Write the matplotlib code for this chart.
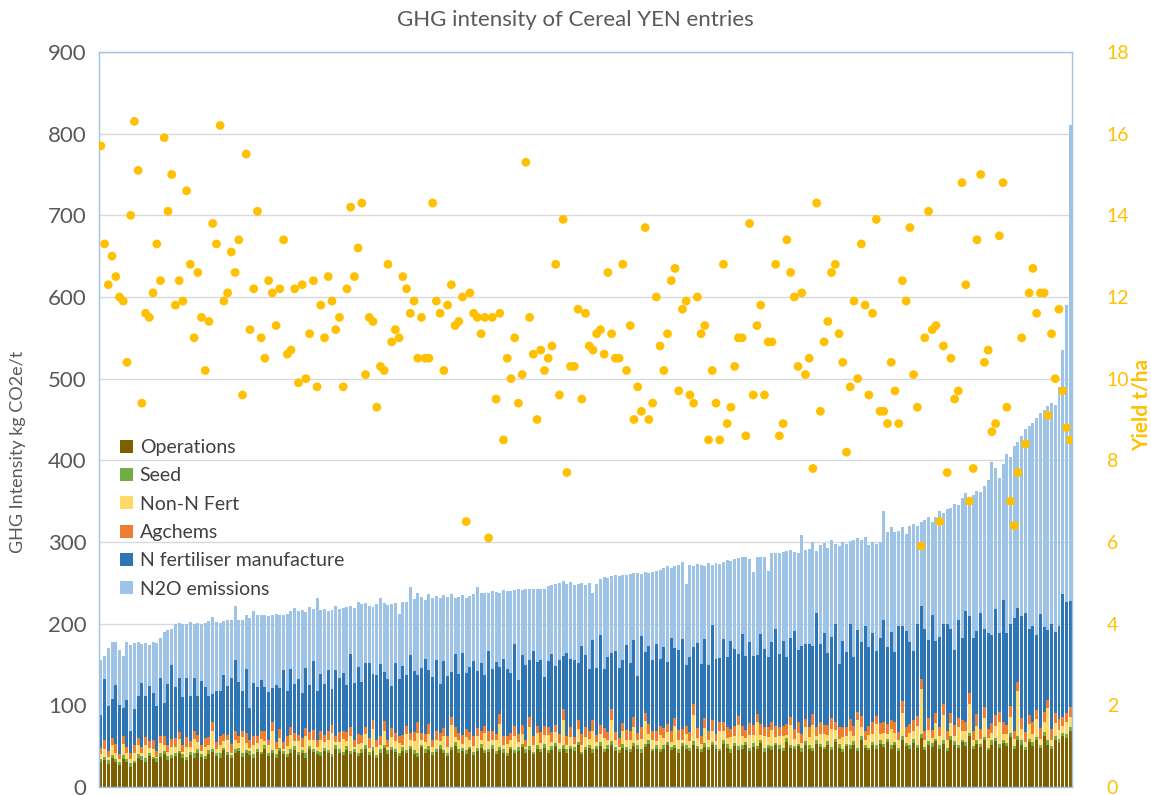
import matplotlib.pyplot as plt
import numpy as np

plt.rcParams['font.family'] = ['Lato', 'DejaVu Sans']

# total GHG intensity per entry (kg CO2e/t), sorted as in the chart
totals = [155, 160, 170, 178, 178, 168, 160, 178, 174, 176,
          178, 175, 176, 174, 177, 176, 182, 190, 192, 194,
          200, 201, 200, 200, 202, 200, 201, 200, 201, 203,
          208, 202, 201, 203, 205, 204, 221, 205, 204, 210,
          207, 216, 210, 211, 210, 209, 210, 212, 211, 210,
          212, 216, 219, 216, 217, 214, 220, 218, 231, 217,
          218, 216, 217, 221, 218, 219, 220, 222, 219, 226,
          224, 225, 221, 220, 224, 232, 225, 223, 224, 225,
          212, 226, 227, 245, 230, 237, 233, 229, 236, 231,
          234, 232, 235, 233, 236, 232, 233, 235, 231, 234,
          236, 245, 237, 238, 238, 240, 239, 237, 241, 240,
          240, 241, 242, 241, 243, 242, 242, 243, 242, 243,
          246, 247, 249, 250, 252, 248, 251, 247, 249, 250,
          247, 250, 238, 248, 255, 257, 256, 258, 259, 258,
          260, 259, 261, 262, 262, 261, 263, 262, 263, 265,
          266, 268, 270, 268, 271, 272, 276, 248, 272, 270,
          273, 272, 271, 274, 272, 274, 273, 276, 278, 277,
          279, 280, 282, 281, 279, 263, 281, 282, 281, 265,
          286, 287, 286, 288, 289, 290, 288, 287, 308, 290,
          291, 300, 289, 296, 299, 293, 302, 297, 295, 300,
          298, 301, 303, 305, 303, 306, 296, 300, 297, 300,
          338, 312, 318, 312, 314, 318, 310, 320, 322, 320,
          325, 327, 330, 325, 331, 338, 336, 340, 342, 346,
          345, 354, 360, 352, 358, 362, 361, 368, 376, 398,
          390, 378, 396, 408, 404, 417, 422, 430, 438, 442,
          446, 452, 458, 462, 466, 470, 468, 490, 535, 590,
          810]

operations = [30, 33, 28, 35, 31, 27, 34, 30, 25, 29,
              36, 33, 31, 38, 34, 30, 37, 40, 33, 35,
              38, 41, 35, 33, 39, 36, 42, 37, 34, 40,
              43, 38, 36, 45, 39, 35, 41, 44, 37, 42,
              39, 36, 43, 40, 46, 38, 41, 35, 44, 40,
              37, 42, 45, 39, 41, 36, 47, 43, 40, 38,
              44, 41, 37, 46, 42, 39, 45, 40, 43, 38,
              41, 47, 39, 44, 36, 42, 48, 40, 45, 43,
              38, 44, 41, 46, 40, 37, 49, 42, 45, 39,
              43, 47, 41, 38, 45, 50, 42, 44, 40, 46,
              39, 44, 48, 41, 43, 47, 40, 45, 42, 38,
              46, 41, 44, 49, 42, 45, 40, 47, 43, 48,
              41, 45, 50, 43, 47, 42, 46, 44, 51, 40,
              45, 48, 42, 46, 50, 43, 47, 52, 44, 41,
              48, 45, 43, 50, 46, 42, 49, 53, 44, 47,
              43, 46, 51, 45, 48, 42, 50, 46, 44, 52,
              47, 43, 49, 45, 51, 46, 44, 53, 48, 42,
              50, 45, 47, 52, 44, 49, 46, 54, 43, 48,
              45, 51, 47, 44, 55, 48, 46, 50, 43, 52,
              47, 44, 53, 49, 46, 51, 45, 55, 48, 43,
              50, 46, 52, 44, 57, 48, 45, 51, 47, 53,
              49, 55, 46, 52, 44, 58, 50, 47, 54, 48,
              60, 45, 52, 49, 56, 47, 53, 44, 58, 51,
              48, 55, 50, 62, 46, 53, 49, 57, 45, 52,
              56, 48, 54, 50, 61, 47, 58, 52, 45, 55,
              50, 57, 48, 63, 52, 46, 58, 54, 62, 60,
              68]

seed = [4, 4, 5, 4, 3, 4, 5, 4, 4, 3,
        4, 5, 4, 4, 3, 5, 4, 4, 5, 4,
        4, 3, 5, 4, 4, 5, 4, 3, 4, 5,
        4, 4, 5, 3, 4, 4, 5, 4, 4, 3,
        5, 4, 4, 3, 5, 4, 4, 5, 4, 4,
        3, 4, 5, 4, 4, 5, 3, 4, 4, 5,
        4, 4, 3, 5, 4, 4, 5, 4, 3, 4,
        5, 4, 4, 5, 3, 4, 4, 5, 4, 4,
        3, 5, 4, 4, 5, 4, 3, 4, 5, 4,
        4, 5, 4, 3, 4, 5, 4, 4, 5, 3,
        4, 4, 5, 4, 3, 5, 4, 4, 5, 4,
        3, 4, 5, 4, 4, 5, 3, 4, 4, 5,
        4, 5, 4, 3, 5, 4, 4, 5, 4, 3,
        4, 4, 5, 4, 5, 3, 4, 4, 5, 4,
        5, 4, 3, 4, 5, 4, 4, 5, 3, 4,
        4, 5, 4, 4, 3, 5, 4, 5, 4, 4,
        3, 4, 5, 4, 4, 5, 3, 4, 5, 4,
        4, 5, 4, 3, 4, 5, 4, 4, 5, 4,
        5, 3, 4, 4, 5, 4, 4, 3, 5, 4,
        4, 4, 5, 4, 3, 5, 4, 4, 5, 4,
        3, 5, 4, 4, 5, 4, 3, 4, 5, 4,
        4, 4, 5, 3, 4, 5, 4, 4, 5, 3,
        5, 4, 4, 5, 3, 4, 5, 4, 4, 5,
        4, 3, 5, 4, 4, 5, 4, 4, 3, 5,
        4, 5, 4, 4, 5, 3, 4, 5, 4, 4,
        5, 4, 3, 4, 5, 4, 4, 5, 4, 5,
        6]

non_n_fert = [6, 10, 4, 12, 8, 3, 14, 7, 5, 9,
              11, 4, 16, 6, 9, 2, 13, 8, 5, 10,
              7, 15, 3, 12, 6, 18, 9, 4, 11, 7,
              22, 5, 10, 8, 14, 3, 12, 6, 20, 9,
              4, 11, 7, 16, 5, 9, 24, 6, 12, 3,
              10, 18, 6, 13, 4, 21, 8, 11, 5, 15,
              7, 12, 26, 4, 9, 16, 6, 19, 3, 11,
              8, 14, 5, 22, 10, 6, 17, 4, 12, 9,
              13, 3, 20, 7, 11, 25, 5, 9, 15, 6,
              10, 4, 18, 8, 27, 6, 12, 5, 16, 9,
              7, 14, 4, 21, 10, 6, 13, 28, 5, 11,
              8, 17, 6, 12, 3, 24, 9, 15, 7, 11,
              19, 5, 13, 8, 30, 6, 11, 4, 16, 9,
              12, 7, 22, 5, 10, 14, 6, 26, 9, 4,
              15, 8, 11, 20, 6, 13, 28, 7, 10, 5,
              17, 9, 12, 6, 24, 11, 4, 14, 8, 32,
              10, 6, 18, 9, 13, 5, 21, 11, 7, 15,
              8, 26, 12, 5, 16, 10, 30, 6, 14, 9,
              20, 7, 11, 15, 4, 24, 9, 13, 6, 18,
              10, 28, 5, 12, 16, 8, 22, 11, 6, 14,
              9, 18, 7, 34, 12, 5, 16, 10, 25, 8,
              13, 6, 20, 11, 9, 28, 7, 15, 10, 24,
              55, 8, 14, 6, 19, 11, 30, 9, 16, 7,
              21, 10, 13, 36, 8, 17, 6, 24, 12, 9,
              15, 27, 7, 11, 20, 9, 55, 14, 6, 18,
              10, 22, 8, 13, 40, 7, 16, 11, 9, 14,
              12]

agchems = [8, 10, 7, 9, 11, 6, 9, 8, 7, 10,
           9, 7, 10, 8, 12, 7, 9, 11, 8, 10,
           11, 8, 9, 12, 7, 10, 9, 8, 11, 9,
           10, 8, 12, 9, 7, 11, 10, 9, 8, 12,
           9, 11, 8, 10, 12, 7, 10, 9, 11, 8,
           12, 9, 10, 8, 11, 10, 9, 12, 8, 10,
           9, 11, 10, 8, 12, 9, 11, 10, 8, 12,
           10, 9, 12, 11, 8, 10, 12, 9, 11, 10,
           8, 12, 10, 9, 11, 13, 9, 10, 12, 8,
           11, 10, 9, 13, 10, 12, 8, 11, 10, 9,
           12, 10, 11, 9, 13, 10, 8, 12, 11, 10,
           9, 13, 10, 11, 8, 12, 10, 9, 13, 11,
           10, 12, 9, 11, 14, 10, 12, 8, 11, 13,
           12, 10, 13, 9, 11, 12, 10, 14, 9, 11,
           10, 13, 11, 12, 9, 14, 10, 12, 11, 13,
           11, 12, 10, 14, 9, 12, 13, 10, 11, 14,
           12, 10, 13, 11, 14, 9, 12, 11, 13, 10,
           13, 11, 12, 10, 14, 12, 9, 13, 11, 12,
           10, 14, 11, 12, 13, 10, 12, 14, 11, 9,
           12, 13, 10, 14, 11, 12, 13, 10, 14, 12,
           11, 14, 12, 10, 13, 12, 11, 14, 10, 13,
           14, 12, 11, 13, 10, 14, 12, 11, 13, 12,
           12, 11, 14, 10, 13, 12, 14, 11, 12, 13,
           11, 14, 12, 13, 10, 14, 12, 13, 11, 12,
           13, 12, 14, 11, 13, 10, 12, 14, 12, 11,
           14, 11, 13, 12, 10, 14, 12, 13, 11, 12,
           12]

n_fert = [40, 75, 55, 48, 72, 60, 35, 58, 28, 45,
          52, 78, 50, 68, 57, 55, 70, 40, 75, 90,
          62, 66, 58, 72, 55, 65, 48, 78, 62, 50,
          35, 62, 55, 72, 60, 80, 88, 66, 48, 78,
          40, 65, 60, 62, 55, 58, 42, 70, 50, 88,
          56, 72, 60, 68, 55, 74, 58, 84, 60, 70,
          62, 75, 44, 80, 66, 72, 58, 90, 70, 82,
          64, 78, 92, 56, 80, 88, 60, 74, 52, 86,
          70, 84, 62, 96, 75, 58, 80, 92, 66, 78,
          88, 60, 82, 74, 55, 90, 72, 100, 68, 80,
          92, 70, 84, 62, 98, 76, 88, 58, 94, 82,
          74, 100, 66, 86, 92, 70, 104, 78, 88, 60,
          80, 96, 72, 90, 64, 102, 84, 94, 70, 108,
          88, 76, 98, 82, 110, 72, 92, 68, 100, 86,
          78, 104, 84, 94, 70, 112, 74, 96, 88, 106,
          82, 100, 76, 114, 86, 98, 110, 74, 92, 70,
          104, 88, 96, 80, 116, 92, 78, 102, 86, 108,
          94, 76, 112, 90, 100, 84, 72, 110, 96, 86,
          98, 118, 90, 104, 82, 96, 120, 88, 108, 92,
          102, 84, 140, 96, 112, 88, 100, 120, 78, 106,
          92, 116, 84, 100, 90, 128, 96, 110, 80, 104,
          124, 94, 108, 86, 130, 92, 118, 100, 84, 112,
          90, 126, 96, 140, 88, 110, 98, 132, 104, 92,
          120, 100, 136, 94, 114, 102, 142, 96, 118, 108,
          130, 96, 150, 112, 100, 138, 90, 124, 146, 106,
          118, 92, 140, 104, 85, 128, 100, 114, 150, 136,
          130]

# yield per entry (t/ha), same order as the bars
yields = [15.7, 13.3, 12.3, 13.0, 12.5, 12.0, 11.9, 10.4, 14.0, 16.3,
          15.1, 9.4, 11.6, 11.5, 12.1, 13.3, 12.4, 15.9, 14.1, 15.0,
          11.8, 12.4, 11.9, 14.6, 12.8, 11.0, 12.6, 11.5, 10.2, 11.4,
          13.8, 13.3, 16.2, 11.9, 12.1, 13.1, 12.6, 13.4, 9.6, 15.5,
          11.2, 12.2, 14.1, 11.0, 10.5, 12.4, 12.1, 11.3, 12.2, 13.4,
          10.6, 10.7, 12.2,
          9.9, 12.3, 10.0, 11.1, 12.4, 9.8, 11.8, 11.0, 12.5, 11.9,
          11.2, 11.5, 9.8, 12.2, 14.2, 12.5, 13.2, 14.3, 10.1, 11.5,
          11.4, 9.3, 10.3, 10.2, 12.8, 10.9, 11.2, 11.0, 12.5, 12.2,
          11.6, 11.9, 10.5, 11.5, 10.5, 10.5, 14.3, 11.9, 11.6, 10.2,
          11.8, 12.3, 11.3, 11.4, 12.0, 6.5, 12.1, 11.6, 11.5, 11.1,
          11.5, 6.1,
          11.5, 9.5, 11.6, 8.5, 10.5, 10.0, 11.0, 9.4, 10.1, 15.3,
          11.5, 10.6, 9.0, 10.7, 10.2, 10.5, 10.8, 12.8, 9.6, 13.9,
          7.7, 10.3, 10.3, 11.7, 9.5, 11.6, 10.8, 10.7, 11.1, 11.2,
          10.6, 12.6, 11.1, 10.5, 10.5, 12.8, 10.2, 11.3, 9.0, 9.8,
          9.2, 13.7, 9.0, 9.4, 12.0, 10.8, 10.2, 11.1, 12.4, 12.7,
          9.7, 11.7,
          11.9, 9.6, 9.4, 12.0, 11.1, 11.3, 8.5, 10.2, 9.4, 8.5,
          12.8, 8.9, 9.3, 10.3, 11.0, 11.0, 8.6, 13.8, 9.6, 11.3,
          11.8, 9.6, 10.9, 10.9, 12.8, 8.6, 8.9, 13.4, 12.6, 12.0,
          10.3, 12.1, 10.1, 10.5, 7.8, 14.3, 9.2, 10.9, 11.4, 12.6,
          12.8, 11.1, 10.4, 8.2, 9.8, 11.9, 10.0, 13.3, 11.8, 9.6,
          11.6, 13.9, 9.2,
          9.2, 8.9, 10.4, 9.7, 8.9, 12.4, 11.9, 13.7, 10.1, 9.3,
          5.9, 11.0, 14.1, 11.2, 11.3, 6.5, 10.8, 7.7, 10.5, 9.5,
          9.7, 14.8, 12.3, 7.0, 7.8, 13.4, 15.0, 10.4, 10.7, 8.7,
          8.9, 13.5, 14.8, 9.3, 7.0, 6.4, 7.7, 11.0, 8.4, 12.1,
          12.7, 11.6, 12.1, 12.1, 9.1, 11.1, 10.0, 11.7, 9.7, 8.8,
          8.5]

labels = ['Operations', 'Seed', 'Non-N Fert', 'Agchems',
          'N fertiliser manufacture', 'N2O emissions']
colors = ['#7F6000', '#70AD47', '#FFD966', '#ED7D31', '#2E75B6', '#9DC3E6']

parts = [np.array(operations), np.array(seed), np.array(non_n_fert),
         np.array(agchems), np.array(n_fert)]
n2o = np.array(totals) - sum(parts)
parts.append(n2o)

x = np.arange(len(totals))

fig = plt.figure(figsize=(11.51, 7.95), dpi=100)
ax = fig.add_axes([0.0860, 0.0101, 0.8454, 0.9245])
ax.set_axisbelow(True)

bottom = np.zeros(len(totals))
for vals, lab, col in zip(parts, labels, colors):
    ax.bar(x, vals, bottom=bottom, width=0.8, color=col, label=lab, linewidth=0)
    bottom = bottom + vals

ax.set_xlim(-0.5, len(totals) - 0.5)
ax.set_ylim(0, 900)
ax.set_yticks(np.arange(0, 901, 100))
ax.set_xticks([])
ax.grid(axis='y', color='#D9D9D9', linewidth=1)
ax.tick_params(axis='y', length=0, pad=9, labelsize=16, labelcolor='#595959')
for s in ax.spines.values():
    s.set_color('#9DC3E6')
    s.set_linewidth(1)

leg = ax.legend(loc='upper left', bbox_to_anchor=(0.004, 0.497), frameon=False,
                fontsize=14, handlelength=0.65, handleheight=0.65,
                handletextpad=0.35, labelspacing=0.58, labelcolor='#404040')

ax2 = ax.twinx()
ax2.scatter(x, yields, s=40, color='#FFC000', edgecolors='none', zorder=3)
ax2.set_ylim(0, 18)
ax2.set_yticks(np.arange(0, 19, 2))
ax2.tick_params(axis='y', length=0, pad=25, labelsize=14, labelcolor='#FFC000')
for lab in ax2.get_yticklabels():
    lab.set_horizontalalignment('left')
for s in ax2.spines.values():
    s.set_visible(False)

fig.text(18 / 1151, 0.432, 'GHG Intensity kg CO2e/t', rotation=90, ha='center',
         va='center', fontsize=13, color='#595959')
fig.text(1142 / 1151, 0.49, 'Yield t/ha', rotation=90, ha='center', va='center',
         fontsize=15, fontweight='bold', color='#FFC000')
fig.text(0.5, 0.975, 'GHG intensity of Cereal YEN entries', ha='center', va='center',
         fontsize=16, color='#595959')

fig.savefig('out.png', dpi=100)
